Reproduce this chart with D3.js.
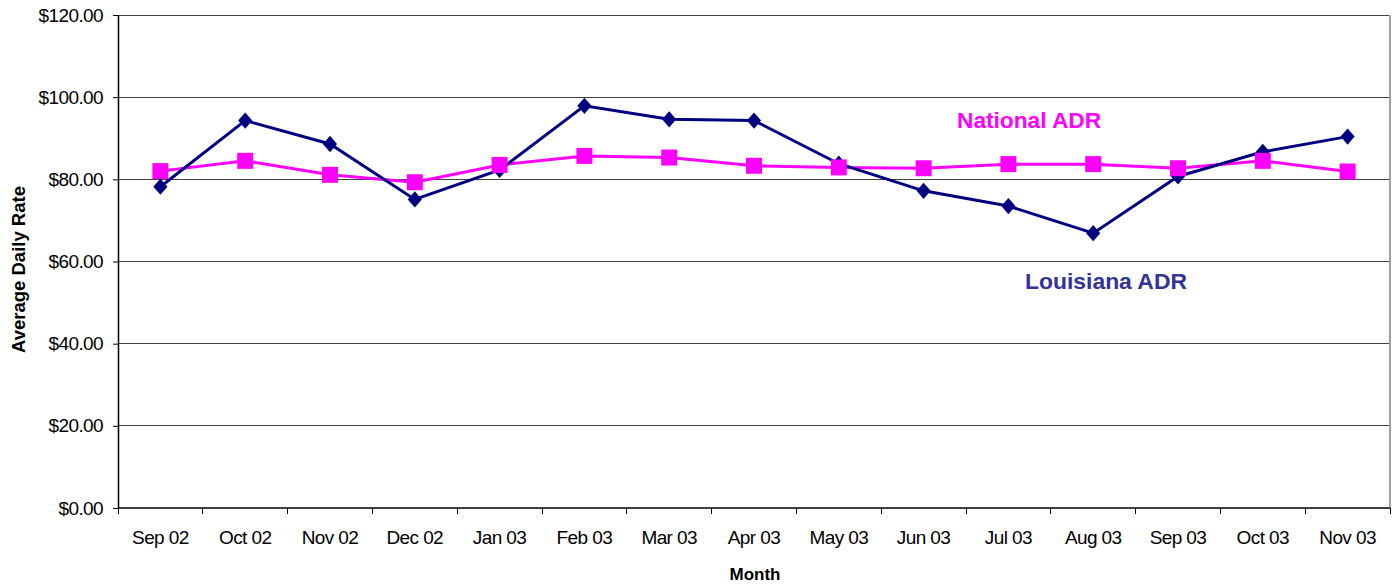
<!DOCTYPE html>
<html>
<head>
<meta charset="utf-8">
<script src="https://cdn.jsdelivr.net/npm/d3@7"></script>
<style>
  html, body { margin: 0; padding: 0; background: #fff; }
  svg { display: block; font-family: "Liberation Sans", Arial, sans-serif; }
</style>
</head>
<body>
<svg id="chart" width="1397" height="586"></svg>
<script>
// Monthly average daily rate, Sep 2002 – Nov 2003
const months = ["Sep 02", "Oct 02", "Nov 02", "Dec 02", "Jan 03", "Feb 03", "Mar 03",
                "Apr 03", "May 03", "Jun 03", "Jul 03", "Aug 03", "Sep 03", "Oct 03", "Nov 03"];
const louisianaADR = [78.2, 94.3, 88.6, 75.1, 82.3, 97.9, 94.6, 94.3, 83.8, 77.2, 73.5, 66.9, 80.7, 86.7, 90.4];
const nationalADR  = [82.0, 84.5, 81.1, 79.3, 83.5, 85.7, 85.3, 83.3, 82.9, 82.7, 83.7, 83.7, 82.7, 84.5, 81.9];
const yTicks = [0, 20, 40, 60, 80, 100, 120];

const svg = d3.select("#chart");
const plotLeft = 118, plotRight = 1390, plotTop = 15, plotBottom = 508;

const x = d3.scaleBand().domain(months).range([plotLeft, plotRight]).padding(0);
const y = d3.scaleLinear().domain([0, 120]).range([plotBottom, plotTop]);
const fmt = v => "$" + d3.format(".2f")(v);

// horizontal gridlines
svg.append("g")
  .selectAll("line")
  .data(yTicks.filter(t => t > 0))
  .join("line")
  .attr("x1", plotLeft).attr("x2", plotRight)
  .attr("y1", d => y(d)).attr("y2", d => y(d))
  .attr("stroke", "#404040").attr("stroke-width", 1)
  .attr("shape-rendering", "crispEdges");

// right border of plot area
svg.append("line")
  .attr("x1", plotRight).attr("x2", plotRight).attr("y1", plotTop).attr("y2", plotBottom)
  .attr("stroke", "#a0a0a0").attr("stroke-width", 1.5)
  .attr("shape-rendering", "crispEdges");

// y axis
const yAxis = svg.append("g")
  .attr("transform", `translate(${plotLeft},0)`)
  .call(d3.axisLeft(y).tickValues(yTicks).tickFormat(fmt).tickSize(5).tickSizeOuter(0));
yAxis.select(".domain").attr("stroke", "#000").attr("stroke-width", 1.5);
yAxis.selectAll(".tick line").attr("stroke", "#000");
yAxis.selectAll(".tick text")
  .attr("x", -15)
  .attr("font-size", 19).attr("letter-spacing", -0.6).attr("fill", "#000")
  .attr("font-family", "Liberation Sans, Arial, sans-serif");

// x axis with ticks at category boundaries
const xAxis = svg.append("g").attr("transform", `translate(0,${plotBottom})`);
xAxis.append("line")
  .attr("x1", plotLeft).attr("x2", plotRight).attr("y1", 0).attr("y2", 0)
  .attr("stroke", "#000").attr("stroke-width", 1.5);
xAxis.selectAll("line.tk")
  .data(months.map(m => x(m)).concat([plotRight]))
  .join("line").attr("class", "tk")
  .attr("x1", d => d).attr("x2", d => d).attr("y1", 0).attr("y2", 6)
  .attr("stroke", "#000").attr("stroke-width", 1)
  .attr("shape-rendering", "crispEdges");
xAxis.selectAll("text")
  .data(months)
  .join("text")
  .attr("x", d => x(d) + x.bandwidth() / 2)
  .attr("y", 36)
  .attr("text-anchor", "middle")
  .attr("font-size", 19).attr("letter-spacing", -0.6)
  .text(d => d);

// axis titles
svg.append("text")
  .attr("transform", `translate(25,${(plotTop + plotBottom) / 2 + 8}) rotate(-90)`)
  .attr("text-anchor", "middle")
  .attr("font-size", 18.5).attr("font-weight", "bold")
  .text("Average Daily Rate");
svg.append("text")
  .attr("x", 755).attr("y", 580)
  .attr("text-anchor", "middle")
  .attr("font-size", 17).attr("font-weight", "bold")
  .text("Month");

const cx = d => x(d) + x.bandwidth() / 2;
const line = vals => d3.line().x((d, i) => cx(months[i])).y(d => y(d))(vals);

// National series (magenta squares)
svg.append("path")
  .attr("d", line(nationalADR))
  .attr("fill", "none").attr("stroke", "#FF00FF").attr("stroke-width", 3);
// Louisiana series (navy diamonds)
svg.append("path")
  .attr("d", line(louisianaADR))
  .attr("fill", "none").attr("stroke", "#000080").attr("stroke-width", 3);

svg.append("g").selectAll("path")
  .data(louisianaADR)
  .join("path")
  .attr("d", d3.symbol().type(d3.symbolSquare).size(100))
  .attr("transform", (d, i) => `translate(${cx(months[i])},${y(d)}) scale(1,1.15) rotate(45)`)
  .attr("fill", "#000080");

svg.append("g").selectAll("rect")
  .data(nationalADR)
  .join("rect")
  .attr("x", (d, i) => cx(months[i]) - 8)
  .attr("y", d => y(d) - 8)
  .attr("width", 16).attr("height", 16)
  .attr("fill", "#FF00FF");

// series labels
svg.append("text")
  .attr("x", 957).attr("y", 128)
  .attr("font-size", 22.7).attr("font-weight", "bold")
  .attr("fill", "#FF00FF")
  .text("National ADR");
svg.append("text")
  .attr("x", 1025).attr("y", 289)
  .attr("font-size", 22.9).attr("font-weight", "bold")
  .attr("fill", "#333399")
  .text("Louisiana ADR");
</script>
</body>
</html>
